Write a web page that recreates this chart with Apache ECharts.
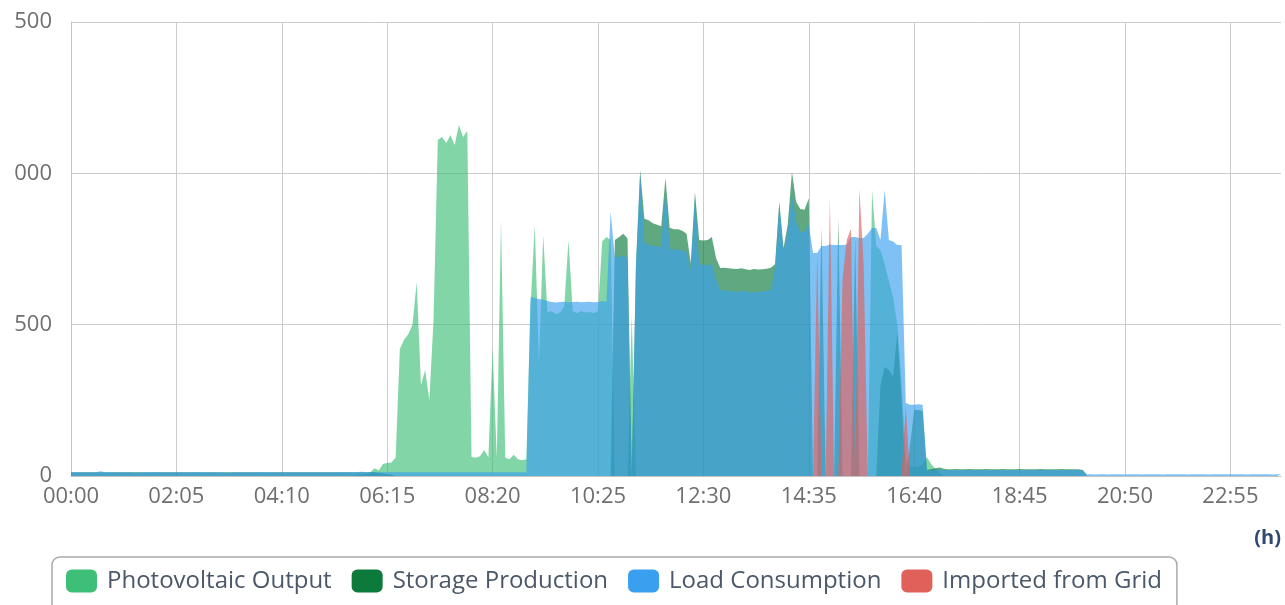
<!DOCTYPE html>
<html>
<head>
<meta charset="utf-8">
<title>Daily Power Flow</title>
<script src="https://cdn.jsdelivr.net/npm/echarts@6/dist/echarts.min.js"></script>
<style>
  html, body { margin: 0; padding: 0; overflow: hidden; background: #fff; width: 1285px; height: 605px; }
  /* the visible frame starts a little inside the chart's left edge */
  #frame { position: absolute; left: 14px; top: 0; width: 1271px; height: 605px; overflow: hidden; }
  #chart { position: absolute; left: -14px; top: 0; width: 1285px; height: 605px; }
</style>
</head>
<body>
<div id="frame"><div id="chart"></div></div>
<script>
// 5-minute sampling slots, 00:00 .. 23:55
const timeSlots = [];
for (let m = 0; m < 24 * 60; m += 5) {
  timeSlots.push(String(Math.floor(m / 60)).padStart(2, '0') + ':' + String(m % 60).padStart(2, '0'));
}

const yTicks = [0, 500, 1000, 1500];

// Photovoltaic output (W), one row per hour, 12 samples each
const pvOutput = [
  0,0,0,0,0,0,0,0,0,0,0,0,
  0,0,0,0,0,0,0,0,0,0,0,0,
  0,0,0,0,0,0,0,0,0,0,0,0,
  0,0,0,0,0,0,0,0,0,0,0,0,
  0,0,0,0,0,0,0,0,0,0,0,0,
  0,0,0,0,0,0,0,0,2,4,6,12,
  26,18,40,43,45,60,420,450,468,500,641,300,
  350,250,520,1110,1120,1100,1127,1094,1160,1120,1140,63,
  60,65,86,62,423,60,846,60,55,70,55,52,
  55,560,829,373,796,540,545,535,540,560,780,545,
  538,545,540,542,538,545,775,790,780,0,0,0,
  0,530,0,0,0,0,0,0,0,0,0,0,
  0,0,0,0,0,0,0,0,0,0,0,0,
  0,0,0,0,0,0,0,0,0,0,0,0,
  0,0,0,0,0,0,0,0,0,0,0,0,
  0,0,0,0,0,0,0,0,0,0,945,760,
  745,700,645,590,500,310,60,30,30,30,40,63,
  40,25,10,0,0,0,0,0,0,0,0,0,
  0,0,0,0,0,0,0,0,0,0,0,0,
  0,0,0,0,0,0,0,0,0,0,0,0,
  0,0,0,0,0,0,0,0,0,0,0,0,
  0,0,0,0,0,0,0,0,0,0,0,0,
  0,0,0,0,0,0,0,0,0,0,0,0,
  0,0,0,0,0,0,0,0,0,0,0,0
];

// Storage (battery) production (W)
const storageOutput = [
  12,12,12,12,12,12,12,12,12,12,12,12,
  12,12,12,12,12,12,12,12,12,12,12,12,
  12,12,12,12,12,12,12,12,12,12,12,12,
  12,12,12,12,12,12,12,12,12,12,12,12,
  12,12,12,12,12,12,12,12,12,12,12,12,
  12,12,12,12,12,12,12,12,12,12,12,12,
  12,10,8,6,4,0,0,0,0,0,0,0,
  0,0,0,0,0,0,0,0,0,0,0,0,
  0,0,0,0,0,0,0,0,0,0,0,0,
  0,0,0,0,0,0,0,0,0,0,0,0,
  0,0,0,0,0,0,0,0,0,780,790,800,
  785,0,700,1011,850,845,835,830,825,985,820,815,
  815,810,800,704,938,780,778,780,790,720,687,688,
  686,685,684,686,683,681,684,682,683,685,688,700,
  905,753,830,1004,905,882,880,918,0,0,823,0,
  0,0,852,0,0,0,790,0,0,0,0,0,
  300,360,350,330,476,250,0,100,218,218,215,20,
  22,26,28,24,22,22,23,22,22,23,22,22,
  22,23,22,22,22,23,22,22,22,23,22,22,
  22,22,23,22,22,22,22,23,22,22,22,22,
  20,0,0,0,0,0,0,0,0,0,0,0,
  0,0,0,0,0,0,0,0,0,0,0,0,
  0,0,0,0,0,0,0,0,0,0,0,0,
  0,0,0,0,0,0,0,0,0,0,0,0
];

// Load consumption (W)
const loadConsumption = [
  12,12,12,12,12,12,12,16,12,12,12,12,
  12,12,12,11,12,12,12,12,13,12,12,12,
  12,12,12,12,12,13,12,12,12,12,12,12,
  12,11,12,12,12,12,12,12,12,13,12,12,
  12,12,12,12,12,12,12,12,12,12,12,12,
  12,12,12,12,12,13,12,12,13,14,12,13,
  12,12,12,12,12,12,12,12,12,12,12,12,
  12,12,12,12,12,12,12,12,12,12,12,12,
  12,12,12,12,12,12,12,12,12,12,12,12,
  12,591,588,585,582,578,575,573,575,576,574,575,
  576,574,575,576,574,575,578,576,872,720,725,728,
  720,0,690,1000,770,765,760,760,755,950,750,748,
  748,745,740,680,920,700,697,697,700,650,615,612,
  612,610,608,612,610,606,609,607,610,612,615,690,
  900,740,810,930,840,806,808,830,737,737,760,760,
  765,763,763,763,765,790,790,786,786,800,819,819,
  780,945,780,775,763,763,241,235,235,237,235,20,
  18,20,22,20,20,20,20,20,20,20,20,20,
  20,20,20,20,20,20,20,20,20,20,20,20,
  20,20,20,20,20,20,20,20,20,20,20,20,
  18,6,6,5,6,6,5,6,6,6,5,6,
  6,6,5,6,6,6,6,5,6,6,6,6,
  6,5,6,6,6,6,5,6,6,6,6,6,
  6,6,6,5,6,6,6,6,6,5,6,6
];

// Power imported from the grid (W)
const gridImport = [
  0,0,0,0,0,0,0,0,0,0,0,0,
  0,0,0,0,0,0,0,0,0,0,0,0,
  0,0,0,0,0,0,0,0,0,0,0,0,
  0,0,0,0,0,0,0,0,0,0,0,0,
  0,0,0,0,0,0,0,0,0,0,0,0,
  0,0,0,0,0,0,0,0,0,0,0,0,
  0,0,0,0,0,0,0,0,0,0,0,0,
  0,0,0,0,0,0,0,0,0,0,0,0,
  0,0,0,0,0,0,0,0,0,0,0,0,
  0,0,0,0,0,0,0,0,0,0,0,0,
  0,0,0,0,0,0,0,0,0,0,0,0,
  0,0,0,0,0,0,0,0,0,0,0,0,
  0,0,0,0,0,0,0,0,0,0,0,0,
  0,0,0,0,0,0,0,0,0,0,0,0,
  0,0,0,0,0,0,0,0,0,737,0,0,
  922,0,0,650,780,817,0,951,700,0,0,0,
  0,0,0,0,0,0,230,0,0,0,0,0,
  0,0,0,0,0,0,0,0,0,0,0,0,
  0,0,0,0,0,0,0,0,0,0,0,0,
  0,0,0,0,0,0,0,0,0,0,0,0,
  0,0,0,0,0,0,0,0,0,0,0,0,
  0,0,0,0,0,0,0,0,0,0,0,0,
  0,0,0,0,0,0,0,0,0,0,0,0,
  0,0,0,0,0,0,0,0,0,0,0,0
];

const seriesNames = ['Photovoltaic Output', 'Storage Production', 'Load Consumption', 'Imported from Grid'];
const seriesColors = ['#3dbf77', '#0b7a3a', '#3a9fef', '#e0615a'];
const seriesData = [pvOutput, storageOutput, loadConsumption, gridImport];

const font = "'Open Sans', 'Noto Sans', sans-serif";
const chart = echarts.init(document.getElementById('chart'), null, { renderer: 'canvas' });

chart.setOption({
  animation: false,
  backgroundColor: '#ffffff',
  grid: { left: 71, right: 4, top: 22, bottom: 129, outerBoundsMode: 'none' },
  legend: {
    data: seriesNames,
    left: 52,
    top: 557,
    icon: 'roundRect',
    itemWidth: 31,
    itemHeight: 23,
    itemGap: 20,
    padding: [12, 15, 40, 14],
    borderColor: '#a9a9a9',
    borderWidth: 1.5,
    borderRadius: 8,
    selectedMode: false,
    textStyle: { fontSize: 24, color: '#4a5869', fontFamily: font, padding: [0, 0, 0, 5] }
  },
  xAxis: {
    type: 'category',
    data: timeSlots,
    boundaryGap: false,
    axisLine: { lineStyle: { color: '#c4c4c4', width: 1 } },
    axisTick: { show: false },
    axisLabel: { interval: 24, color: '#6f6f6f', fontSize: 22, fontFamily: font, margin: 10 },
    splitLine: { show: true, interval: 24, lineStyle: { color: '#cccccc', width: 1 } },
    name: '(h)',
    nameLocation: 'end',
    nameGap: 0,
    nameTextStyle: {
      color: '#2d4a70', fontWeight: 'bold', fontSize: 20, fontFamily: font,
      align: 'right', verticalAlign: 'top', padding: [52, 0, 0, 0]
    }
  },
  yAxis: {
    type: 'value',
    min: yTicks[0],
    max: yTicks[yTicks.length - 1],
    interval: yTicks[1] - yTicks[0],
    axisLine: { show: true, lineStyle: { color: '#c4c4c4', width: 1 } },
    axisTick: { show: false },
    axisLabel: { color: '#6f6f6f', fontSize: 22, fontFamily: font, margin: 19 },
    splitLine: { show: true, lineStyle: { color: '#cccccc', width: 1 } }
  },
  series: seriesNames.map((name, k) => ({
    name: name,
    type: 'line',
    data: seriesData[k],
    color: seriesColors[k],
    symbol: 'none',
    showSymbol: false,
    lineStyle: { width: 0 },
    itemStyle: { color: seriesColors[k] },
    areaStyle: { color: seriesColors[k], opacity: 0.65 },
    emphasis: { disabled: true }
  }))
});
</script>
</body>
</html>
